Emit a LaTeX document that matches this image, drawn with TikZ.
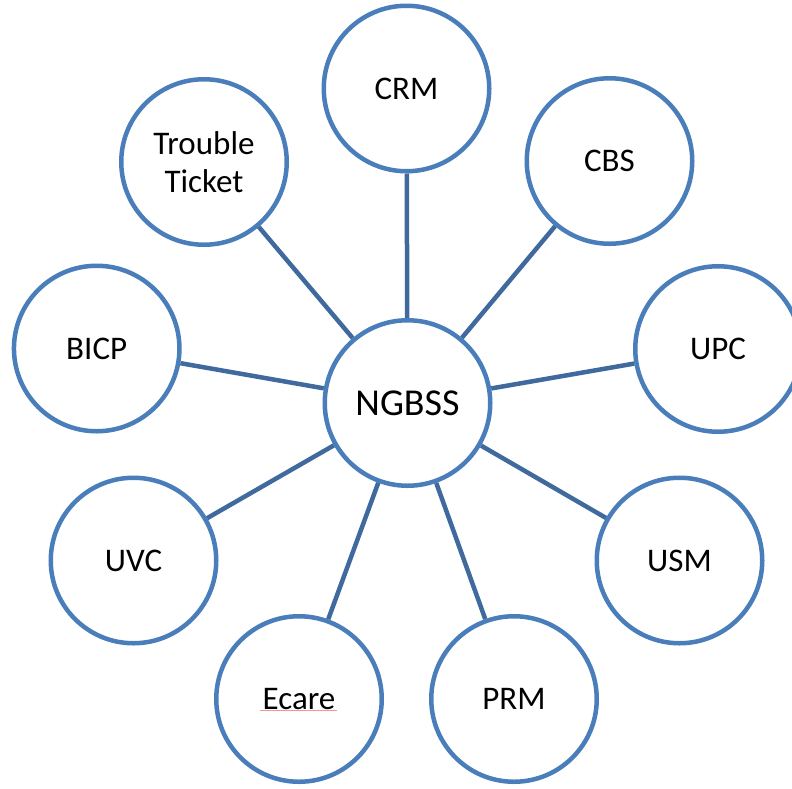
\documentclass[tikz,border=0pt]{standalone}
\usepackage{fontspec}
\setmainfont{Carlito}
\definecolor{ringblue}{RGB}{74,126,187}
\definecolor{linkblue}{RGB}{64,106,158}
\definecolor{spellred}{RGB}{240,150,150}
\begin{document}
\begin{tikzpicture}[x=1pt,y=-1pt,
  bubble/.style={circle,draw=ringblue,line width=4.5pt,fill=white,minimum size=165.5pt,inner sep=0pt,align=center,font=\fontsize{33}{38}\selectfont},
  hub/.style={bubble,font=\fontsize{38}{44}\selectfont},
  link/.style={draw=linkblue,line width=4.5pt}]
\useasboundingbox (0,0) rectangle (792,788);
\clip (0,0) rectangle (792,788);
\node[hub] (ng) at (407.5,403) {NGBSS};
\node[bubble] (crm) at (406.5,88.5) {CRM};
\node[bubble] (cbs) at (609.5,161) {CBS};
\node[bubble] (upc) at (718,349) {UPC};
\node[bubble] (usm) at (679.5,560.5) {USM};
\node[bubble] (prm) at (514,699) {PRM};
\node[bubble] (eca) at (299,699) {Ecare};
\node[bubble] (uvc) at (133.5,560.5) {UVC};
\node[bubble] (bicp) at (96.7,348.5) {BICP};
\node[bubble] (tt) at (204,162) {Trouble\\Ticket};
\foreach \n in {crm,cbs,upc,usm,prm,eca,uvc,bicp,tt}
  \draw[link] (ng) -- (\n);
\coordinate (sl) at (260,710.5);
\coordinate (sr) at (337,710.5);
\draw[spellred,line width=0.8pt] (sl) -- (sr);
\end{tikzpicture}
\end{document}
